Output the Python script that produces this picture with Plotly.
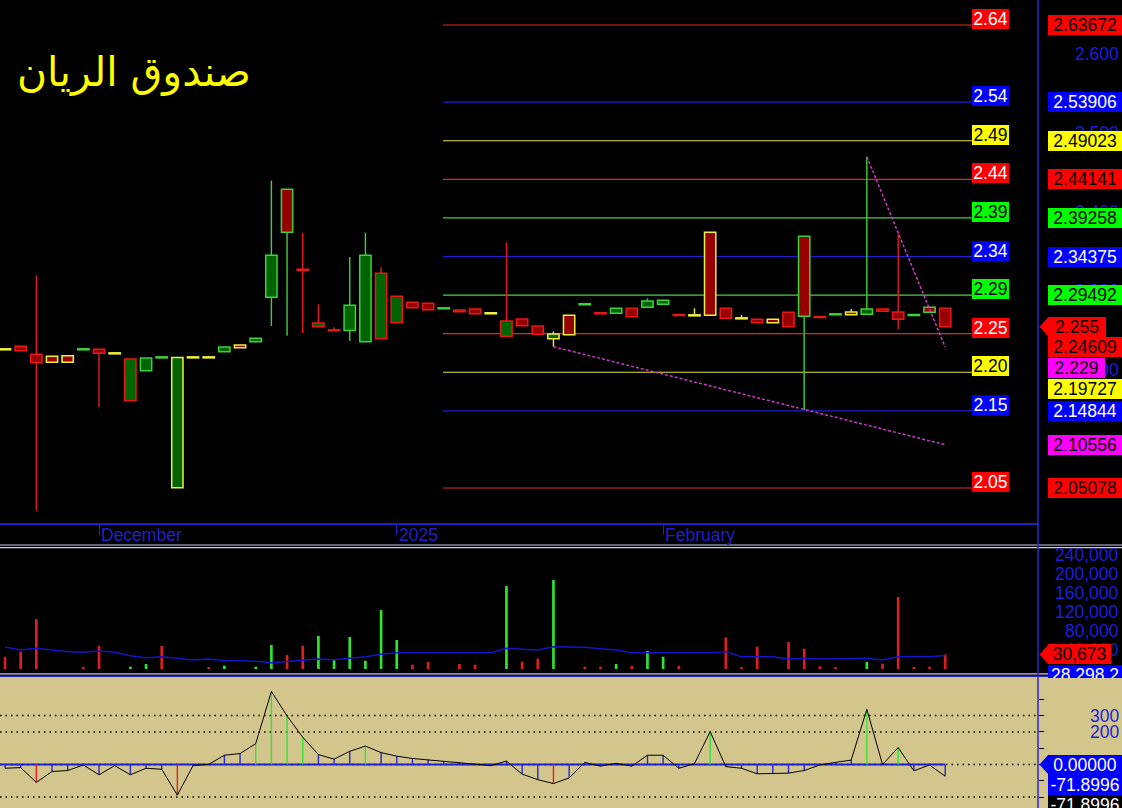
import plotly.graph_objects as go

W, H = 1122, 808
FONT = "Liberation Sans, Arial, sans-serif"

# ---------------- daily bars ----------------
OPEN = [2.2263, 2.2301, 2.2200, 2.2175, 2.2182, 2.2263, 2.2263, 2.2212, 2.1613, 2.1992,
        2.2161, 2.0512, 2.2161, 2.2161, 2.2233, 2.2317, 2.2359, 2.2921, 2.4289, 2.3270,
        2.2550, 2.2503, 2.2500, 2.2360, 2.2397, 2.2600, 2.2858, 2.2845, 2.2782, 2.2761,
        2.2773, 2.2719, 2.2427, 2.2646, 2.2558, 2.2397, 2.2693, 2.2833, 2.2719, 2.2719,
        2.2782, 2.2794, 2.2833, 2.2697, 2.2693, 2.3744, 2.2782, 2.2655, 2.2642, 2.2642,
        2.2731, 2.3693, 2.2672, 2.2706, 2.2735, 2.2706, 2.2773, 2.2735, 2.2697, 2.2794,
        2.2782]
HIGH = [2.2263, 2.2301, 2.3195, 2.2175, 2.2182, 2.2263, 2.2263, 2.2212, 2.2140, 2.2153,
        2.2161, 2.2161, 2.2161, 2.2161, 2.2292, 2.2317, 2.2402, 2.4397, 2.4289, 2.3739,
        2.2833, 2.2541, 2.3431, 2.3739, 2.3301, 2.2934, 2.2858, 2.2845, 2.2782, 2.2761,
        2.2773, 2.2719, 2.3617, 2.2646, 2.2558, 2.2490, 2.2693, 2.2833, 2.2719, 2.2782,
        2.2782, 2.2908, 2.2883, 2.2697, 2.2782, 2.3744, 2.2782, 2.2697, 2.2642, 2.2642,
        2.2731, 2.3693, 2.2672, 2.2706, 2.2773, 2.4701, 2.2773, 2.3718, 2.2697, 2.2794,
        2.2782]
LOW = [2.2263, 2.2245, 2.0221, 2.2098, 2.2098, 2.2263, 2.1529, 2.2212, 2.1613, 2.1992,
       2.2161, 2.0512, 2.2161, 2.2161, 2.2233, 2.2283, 2.2359, 2.2558, 2.2435, 2.2466,
       2.2550, 2.2503, 2.2368, 2.2360, 2.2397, 2.2600, 2.2789, 2.2764, 2.2782, 2.2740,
       2.2714, 2.2719, 2.2427, 2.2562, 2.2453, 2.2296, 2.2448, 2.2833, 2.2719, 2.2719,
       2.2676, 2.2794, 2.2833, 2.2697, 2.2693, 2.2693, 2.2655, 2.2655, 2.2600, 2.2600,
       2.2550, 2.1495, 2.2672, 2.2706, 2.2701, 2.2706, 2.2744, 2.2516, 2.2697, 2.2731,
       2.2550]
CLOSE = [2.2263, 2.2245, 2.2094, 2.2098, 2.2098, 2.2263, 2.2212, 2.2212, 2.2140, 2.2153,
         2.2161, 2.2161, 2.2161, 2.2161, 2.2292, 2.2283, 2.2402, 2.3453, 2.3744, 2.3270,
         2.2596, 2.2503, 2.2820, 2.3453, 2.3225, 2.2934, 2.2789, 2.2764, 2.2782, 2.2740,
         2.2714, 2.2719, 2.2621, 2.2562, 2.2453, 2.2457, 2.2448, 2.2833, 2.2719, 2.2782,
         2.2676, 2.2874, 2.2883, 2.2697, 2.2693, 2.2693, 2.2655, 2.2655, 2.2600, 2.2600,
         2.2550, 2.2680, 2.2672, 2.2706, 2.2701, 2.2773, 2.2744, 2.2642, 2.2697, 2.2731,
         2.2550]
# outline class of each bar: r / g / y
EDGE = list("yrryygryrg" "gyyygygggr" "rrggrrrrgr" "ryrrryygrg" "rggryyryry" "rgrgygrrgg" "r")

VOLUME = [25900, 36400, 105000, 0, 0, 2700, 49000, 0, 4900, 10500,
          48400, 0, 0, 2700, 7000, 0, 4900, 50500, 29500, 48400,
          69500, 19000, 67400, 17500, 124000, 61000, 9100, 15400, 0, 10500,
          9100, 0, 174700, 15400, 21700, 187300, 0, 4900, 4900, 10500,
          6300, 37900, 25900, 6300, 0, 0, 66700, 2700, 47000, 0,
          56800, 42800, 5600, 2700, 0, 14700, 11200, 151600, 2700, 4900,
          30673]
VOL_UP = [0, 0, 0, 0, 0, 0, 0, 0, 1, 1,
          0, 0, 0, 0, 1, 0, 1, 1, 0, 0,
          1, 1, 1, 1, 1, 1, 0, 0, 0, 0,
          0, 0, 1, 0, 0, 1, 0, 0, 0, 1,
          0, 1, 1, 0, 0, 0, 0, 0, 0, 0,
          0, 0, 0, 0, 0, 1, 0, 0, 0, 0,
          0]
VOL_MA = [46300, 40000, 43500, 40000, 36500, 35100, 38000, 35100, 28000, 23500,
          25900, 22500, 18900, 21000, 17500, 17500, 16500, 13300, 15400, 17500,
          21000, 19500, 22500, 25900, 30900, 34400, 34400, 34400, 34400, 34400,
          34400, 34400, 43500, 42100, 40000, 47000, 46300, 45600, 42800, 40000,
          34400, 34400, 34400, 34400, 34400, 34400, 36500, 25900, 25900, 25900,
          21000, 22500, 21000, 21000, 21000, 22500, 18900, 25900, 25900, 25900,
          28298.2]

OSC = [-23, -19, -110, -43, -37, -3, -63, -7, -63, -23,
       -29, -188, -7, 1, 57, 67, 128, 448, 298, 167,
       61, 33, 81, 113, 73, 51, 37, 29, 21, 13,
       5, -7, 21, -59, -93, -117, -83, 13, -10, 7,
       -10, 57, 57, -23, 5, 202, -13, -23, -57, -53,
       -53, -37, -3, 13, 27, 338, 0, 104, -39, -3,
       -71.8996]

MONTH_TICKS = [6, 25, 42]
MONTH_LABELS = ["December", "2025", "February"]

LEVELS = [2.63672, 2.53906, 2.49023, 2.44141, 2.39258, 2.34375,
          2.29492, 2.24609, 2.19727, 2.14844, 2.05078]
LEVEL_HUES = ["red", "blue", "yellow", "red", "green", "blue",
              "green", "red", "yellow", "blue", "red"]
LEVEL_TAG_SHIFT = [0, 0, 0, 0, 0, 0, 0, 13, 17, 0, 0]   # px pushed down to avoid overlap

PRICE_TICKS = [2.6, 2.5, 2.4, 2.3, 2.2, 2.1]
VOL_TICKS = [240000, 200000, 160000, 120000, 80000, 40000]
OSC_TICK_LABELS = [300, 200]
OSC_GRID = [300, 200, 0, -200]

# trend lines: start on a bar extreme, end value at the last bar
TREND_A_BARS = [35, 60]
TREND_A_END = 2.10556
TREND_B_BARS = [55, 60]
TREND_B_END = 2.229

TITLE = "صندوق الريان"

# ---------------- colours ----------------
C = dict(
    r="#E81818", g="#3CD23C", y="#F0F03C",
    fill_dn="#960000", fill_up="#006400",
    lvl_red="#E02828", lvl_blue="#1E1ED2", lvl_yellow="#E6E646", lvl_green="#46D246",
    tag_red="#FF0000", tag_blue="#0000FF", tag_yellow="#FFFF00", tag_green="#00FF00",
    magenta="#FF00FF", trend="#C83CC8",
    axis_blue="#2020C8", text_blue="#1E1EDC",
    tan="#D3C68D",
)
TAG_TEXT = {"red": "black", "blue": "white", "yellow": "black", "green": "black"}
LEVEL_TEXT = {"red": "white", "blue": "white", "yellow": "black", "green": "black"}

# ---------------- layout geometry ----------------
PLOT_RIGHT = 1038
BAR_PX = 15.67
FIRST_BAR_PX = 5
X_RANGE = [-FIRST_BAR_PX / BAR_PX, (PLOT_RIGHT - FIRST_BAR_PX) / BAR_PX]
LEVEL_X0, LEVEL_X1 = 27.95, 61.71


def py(px):
    return 1 - px / H


def px_x(px):
    return px / W


PRICE_DOMAIN = [py(523), 1]
VOL_DOMAIN = [py(672), py(549)]
OSC_DOMAIN = [0, py(677)]
PRICE_RANGE = [2.00651, 2.66836]
VOL_RANGE = [-6315, 252600]
OSC_RANGE = [-266.9, 536.8]

n = len(CLOSE)
idx = list(range(n))

fig = go.Figure()

# ---- wicks ----
wx = {k: [] for k in "rgy"}
wy = {k: [] for k in "rgy"}
for i in idx:
    top, bot = max(OPEN[i], CLOSE[i]), min(OPEN[i], CLOSE[i])
    k = EDGE[i]
    if HIGH[i] > top + 1e-9:
        wx[k] += [i, i, None]
        wy[k] += [top, HIGH[i], None]
    if LOW[i] < bot - 1e-9:
        wx[k] += [i, i, None]
        wy[k] += [bot, LOW[i], None]
for k in "rgy":
    fig.add_trace(go.Scatter(x=wx[k], y=wy[k], mode="lines",
                             line=dict(color=C[k], width=1.4),
                             xaxis="x", yaxis="y", hoverinfo="skip"))

# ---- bodies ----
MIN_BODY = 0.0013
base, height, fill, edge = [], [], [], []
for i in idx:
    top, bot = max(OPEN[i], CLOSE[i]), min(OPEN[i], CLOSE[i])
    if top - bot < MIN_BODY:
        base.append((top + bot) / 2 - MIN_BODY / 2)
        height.append(MIN_BODY)
    else:
        base.append(bot)
        height.append(top - bot)
    if CLOSE[i] > OPEN[i]:
        fill.append(C["fill_up"])
    elif CLOSE[i] < OPEN[i]:
        fill.append(C["fill_dn"])
    else:
        fill.append(C[EDGE[i]])
    edge.append(C[EDGE[i]])
fig.add_trace(go.Bar(x=idx, y=height, base=base, width=0.72,
                     marker=dict(color=fill, line=dict(color=edge, width=1.5)),
                     xaxis="x", yaxis="y", hoverinfo="skip"))

# ---- trend lines ----
fig.add_trace(go.Scatter(x=TREND_A_BARS, y=[LOW[TREND_A_BARS[0]], TREND_A_END], mode="lines",
                         line=dict(color=C["trend"], width=1.5, dash="3px,2px"),
                         xaxis="x", yaxis="y", hoverinfo="skip"))
fig.add_trace(go.Scatter(x=TREND_B_BARS, y=[HIGH[TREND_B_BARS[0]], TREND_B_END], mode="lines",
                         line=dict(color=C["trend"], width=1.5, dash="3px,2px"),
                         xaxis="x", yaxis="y", hoverinfo="skip"))

# ---- volume ----
vcol = ["#2EE62E" if u else "#E01E1E" for u in VOL_UP]
fig.add_trace(go.Bar(x=idx, y=VOLUME, width=0.17, marker=dict(color=vcol, line_width=0),
                     xaxis="x2", yaxis="y2", hoverinfo="skip"))
fig.add_trace(go.Scatter(x=idx, y=VOL_MA, mode="lines", line=dict(color="#1414C8", width=1.5),
                         xaxis="x2", yaxis="y2", hoverinfo="skip"))

# ---- oscillator ----
fig.add_trace(go.Scatter(x=[X_RANGE[0] - 1, idx[-1]], y=[0, 0], mode="lines",
                         line=dict(color="#2020D0", width=2),
                         xaxis="x3", yaxis="y3", hoverinfo="skip"))
sx = {"b": [], "g": [], "r": []}
sy = {"b": [], "g": [], "r": []}
for i, v in zip(idx, OSC):
    k = "g" if v > 100 else ("r" if v < -100 else "b")
    sx[k] += [i, i, None]
    sy[k] += [0, v, None]
for k, col in (("b", "#2828D2"), ("g", "#32E632"), ("r", "#E61E1E")):
    fig.add_trace(go.Scatter(x=sx[k], y=sy[k], mode="lines", line=dict(color=col, width=1.4),
                             xaxis="x3", yaxis="y3", hoverinfo="skip"))
fig.add_trace(go.Scatter(x=idx, y=OSC, mode="lines", line=dict(color="black", width=1),
                         xaxis="x3", yaxis="y3", hoverinfo="skip"))

# ---------------- shapes ----------------
shapes = [
    dict(type="rect", xref="paper", yref="paper", x0=0, x1=1, y0=0, y1=py(677),
         fillcolor=C["tan"], line_width=0, layer="below"),
]
for v in OSC_GRID:
    shapes.append(dict(type="line", xref="x3 domain", yref="y3", x0=0, x1=1, y0=v, y1=v,
                       line=dict(color="black", width=1.5, dash="1.5px,4px"), layer="below"))
for v, hue in zip(LEVELS, LEVEL_HUES):
    shapes.append(dict(type="line", xref="x", yref="y", x0=LEVEL_X0, x1=LEVEL_X1, y0=v, y1=v,
                       line=dict(color=C["lvl_" + hue], width=1.2), layer="below"))
for ypx, col, wd in ((545, "#C8C8F0", 1.2), (547.6, "#C8C8F0", 1.2),
                     (673.8, "#C8C8F0", 1.2), (676.3, "#2828B4", 1.6)):
    shapes.append(dict(type="line", xref="paper", yref="paper", x0=0, x1=1, y0=py(ypx), y1=py(ypx),
                       line=dict(color=col, width=wd), layer="above"))
shapes.append(dict(type="line", xref="paper", yref="paper", x0=px_x(PLOT_RIGHT), x1=px_x(PLOT_RIGHT),
                   y0=0, y1=1, line=dict(color="#2828D0", width=1.5), layer="above"))


def pointer(yref, yval, color):
    return dict(type="path", xref="paper", xsizemode="pixel", xanchor=px_x(1048),
                yref=yref, ysizemode="pixel", yanchor=yval,
                path="M 0.5,-10 L -8.5,0 L 0.5,10 Z", fillcolor=color, line_width=0, layer="above")


shapes.append(pointer("y", CLOSE[-1], C["tag_red"]))
shapes.append(pointer("y2", VOLUME[-1], C["tag_red"]))
shapes.append(pointer("y3", 0, C["tag_blue"]))

# ---------------- annotations ----------------
ann = []


def tag(text, yref, y, bg, fg, width=74, x_px=1048, shift=0, h=20):
    return dict(text=text, xref="paper", x=px_x(x_px), xanchor="left",
                yref=yref, y=y, yanchor="middle", yshift=-shift, showarrow=False,
                width=width, height=h, bgcolor=bg, borderpad=0, borderwidth=0, align="center",
                font=dict(family=FONT, size=17.5, color=fg))


def axis_text(text, yref, y):
    return dict(text=text, xref="paper", x=px_x(1121), xanchor="right",
                yref=yref, y=y, yanchor="middle", showarrow=False, align="right",
                font=dict(family=FONT, size=17.5, color=C["text_blue"]))


ann.append(dict(text=TITLE, xref="paper", x=px_x(15), xanchor="left", yref="paper", y=py(72),
                yanchor="middle", showarrow=False,
                font=dict(family="DejaVu Sans", size=41, color="#FFFF00")))

for t, lab in zip(MONTH_TICKS, MONTH_LABELS):
    ann.append(dict(text=lab, xref="x", x=t, xanchor="left", xshift=0, yref="paper", y=py(535),
                    yanchor="middle", showarrow=False,
                    font=dict(family=FONT, size=17.5, color=C["axis_blue"])))

for v, hue in zip(LEVELS, LEVEL_HUES):
    ann.append(dict(text=f"{v:.2f}", xref="x", x=LEVEL_X1, xanchor="left", yref="y", y=v,
                    yanchor="middle", yshift=6, showarrow=False, width=37, height=20,
                    bgcolor=C["tag_" + hue], borderpad=0, borderwidth=0, align="center",
                    font=dict(family=FONT, size=17.5, color=LEVEL_TEXT[hue])))

for v in PRICE_TICKS:
    ann.append(axis_text(f"{v:.3f}", "y", v))

for v, hue, s in zip(LEVELS, LEVEL_HUES, LEVEL_TAG_SHIFT):
    ann.append(tag(f"{v:.5f}", "y", v, C["tag_" + hue], TAG_TEXT[hue], shift=s))

ann.append(tag(f"{TREND_B_END:.3f}", "y", TREND_B_END, C["magenta"], "black", width=57, shift=21))
ann.append(tag(f"{TREND_A_END:.5f}", "y", TREND_A_END, C["magenta"], "black"))
ann.append(tag(f"{CLOSE[-1]:.3f}", "y", CLOSE[-1], C["tag_red"], "black", width=58))

for v in VOL_TICKS:
    ann.append(axis_text(f"{v:,}", "y2", v))
ann.append(tag(f"{VOLUME[-1]:,}", "y2", VOLUME[-1], C["tag_red"], "black", width=63))
ann.append(tag(f"{VOL_MA[-1]:,.1f}", "y2", VOL_MA[-1], C["tag_blue"], "white", shift=19))
# panel background continues over the right-hand scale
ann.append(dict(text=" ", xref="paper", x=px_x(1044), xanchor="left", yref="paper", y=py(677.5),
                yanchor="top", showarrow=False, width=W - 1044, height=20, bgcolor=C["tan"],
                borderpad=0, borderwidth=0))

for v in OSC_TICK_LABELS:
    ann.append(axis_text(str(v), "y3", v))
ann.append(tag("0.00000", "y3", 0, C["tag_blue"], "white"))
ann.append(tag(f"{OSC[-1]:.4f}", "y3", OSC[-1], C["tag_blue"], "white", shift=9))
ann.append(tag(f"{OSC[-1]:.4f}", "y3", OSC[-1], "black", "white", shift=29))

fig.update_layout(
    width=W, height=H, margin=dict(l=0, r=0, t=0, b=0),
    paper_bgcolor="black", plot_bgcolor="rgba(0,0,0,0)",
    showlegend=False, hovermode=False, barmode="overlay",
    shapes=shapes, annotations=ann,
    xaxis=dict(domain=[0, px_x(PLOT_RIGHT)], range=X_RANGE, anchor="y",
               showgrid=False, zeroline=False, showticklabels=False,
               showline=True, linecolor=C["axis_blue"], linewidth=1.5,
               ticks="outside", ticklen=10, tickwidth=1, tickcolor=C["axis_blue"],
               tickvals=MONTH_TICKS),
    yaxis=dict(domain=PRICE_DOMAIN, range=PRICE_RANGE, anchor="x",
               showgrid=False, zeroline=False, showticklabels=False, showline=False),
    xaxis2=dict(domain=[0, px_x(PLOT_RIGHT)], range=X_RANGE, anchor="y2", matches="x",
                visible=False),
    yaxis2=dict(domain=VOL_DOMAIN, range=VOL_RANGE, anchor="x2",
                showgrid=False, zeroline=False, showticklabels=False, showline=False),
    xaxis3=dict(domain=[0, px_x(PLOT_RIGHT)], range=X_RANGE, anchor="y3", matches="x",
                visible=False),
    yaxis3=dict(domain=OSC_DOMAIN, range=OSC_RANGE, anchor="x3", side="right",
                showgrid=False, zeroline=False, showticklabels=False, showline=False,
                ticks="outside", ticklen=5, tickcolor="black", tickwidth=1,
                tickvals=[400, 300, 200, 100, 0, -100, -200]),
)

fig.write_html("out.html")
